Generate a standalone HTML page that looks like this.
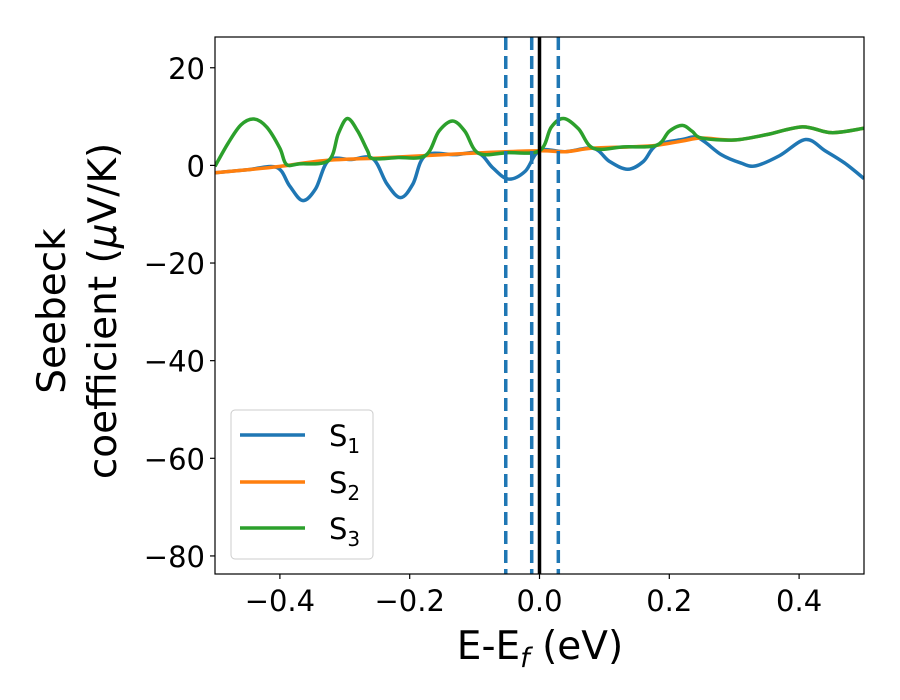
<!DOCTYPE html>
<html><head><meta charset="utf-8"><style>
body{margin:0;background:#fff;}
svg text{font-family:"DejaVu Sans","Liberation Sans",sans-serif;}
</style></head><body>
<svg id="chart" width="900" height="700" xmlns="http://www.w3.org/2000/svg" style="position:absolute;left:0;top:0">
<rect width="900" height="700" fill="#fff"/>
</svg>
<script>
const xTicks=[-0.4,-0.2,0.0,0.2,0.4];
const xTickLabels=["\u22120.4","\u22120.2","0.0","0.2","0.4"];
const yTicks=[20,0,-20,-40,-60,-80];
const yTickLabels=["20","0","\u221220","\u221240","\u221260","\u221280"];
const s1x=[-0.5,-0.45,-0.405,-0.385,-0.365,-0.345,-0.325,-0.29,-0.257,-0.235,-0.214,-0.195,-0.176,-0.13,-0.094,-0.072,-0.048,-0.022,0,0.04,0.083,0.108,0.136,0.16,0.18,0.22,0.245,0.28,0.31,0.333,0.37,0.41,0.44,0.47,0.5];
const s1y=[-1.5,-0.9,-0.4,-4.2,-7.2,-4.8,1,1.2,1.4,-3.8,-6.6,-3.8,2,2.2,2.5,-0.5,-2.8,-1.2,3,2.8,3.5,0.8,-0.8,0.8,4.1,5.3,5.6,2.2,0.5,-0.1,2,5.3,3,0.5,-2.7];
const s2x=[-0.5,-0.45,-0.4,-0.33,-0.25,-0.176,-0.088,0,0.04,0.08,0.14,0.18,0.22,0.25,0.3,0.35,0.405,0.45,0.5];
const s2y=[-1.5,-0.9,-0.2,1,1.5,2,2.6,3,2.8,3.5,3.8,4.1,5,5.6,5.2,6.3,7.9,6.7,7.6];
const s3x=[-0.5,-0.48,-0.46,-0.44,-0.42,-0.4,-0.39,-0.37,-0.325,-0.31,-0.296,-0.28,-0.265,-0.257,-0.22,-0.176,-0.155,-0.134,-0.115,-0.094,-0.05,0,0.018,0.037,0.06,0.083,0.13,0.18,0.2,0.22,0.235,0.25,0.3,0.35,0.405,0.45,0.5];
const s3y=[-0.2,4.5,8.3,9.5,7.8,3.5,0.2,0.3,1,6.5,9.6,7,3,1.4,1.6,2,7,9.1,7,2.5,2.6,3,7.8,9.6,7.5,3.5,3.8,4.1,7,8.2,7,5.6,5.2,6.3,7.9,6.7,7.6];
const vDashed=[-0.052,-0.012,0.029];
const vSolid=[0];

const L=215,R=864,T=37,B=574;
const xmin=-0.5,xmax=0.5,ymin=-83.7,ymax=26.3;
const X=v=>L+(v-xmin)/(xmax-xmin)*(R-L);
const Y=v=>B-(v-ymin)/(ymax-ymin)*(B-T);
const NS="http://www.w3.org/2000/svg";
const svg=document.getElementById('chart');
function mk(t,a,p){const e=document.createElementNS(NS,t);for(const k in a)e.setAttribute(k,a[k]);(p||svg).appendChild(e);return e;}
const defs=mk('defs',{});const cp=mk('clipPath',{id:'clip'},defs);mk('rect',{x:L,y:T,width:R-L,height:B-T},cp);
const g=mk('g',{'clip-path':'url(#clip)'});
function path(xs,ys){const p=xs.map((x,i)=>[X(x),Y(ys[i])]);let d='M'+p[0][0]+','+p[0][1];
for(let i=0;i<p.length-1;i++){const p0=p[Math.max(0,i-1)],p1=p[i],p2=p[i+1],p3=p[Math.min(p.length-1,i+2)];
d+=' C'+(p1[0]+(p2[0]-p0[0])/6)+','+(p1[1]+(p2[1]-p0[1])/6)+' '+(p2[0]-(p3[0]-p1[0])/6)+','+(p2[1]-(p3[1]-p1[1])/6)+' '+p2[0]+','+p2[1];}return d;}
const series=[[s1x,s1y,'#1f77b4','series-s1'],[s2x,s2y,'#ff7f0e','series-s2'],[s3x,s3y,'#2ca02c','series-s3']];
series.forEach(s=>{const e=mk('path',{d:path(s[0],s[1]),fill:'none',stroke:s[2],'stroke-width':3.5,'stroke-linejoin':'round'},g);

});
vDashed.forEach(v=>{const e=mk('line',{x1:X(v),x2:X(v),y1:T,y2:B,stroke:'#1f77b4','stroke-width':3.5,'stroke-dasharray':'13 6'},g);

});
vSolid.forEach(v=>{const e=mk('line',{x1:X(v),x2:X(v),y1:T,y2:B,stroke:'#000','stroke-width':3.5},g);

});
const fr=mk('rect',{x:L,y:T,width:R-L,height:B-T,fill:'none',stroke:'#000','stroke-width':1.2});


xTicks.forEach((v,i)=>{mk('line',{x1:X(v),x2:X(v),y1:B,y2:B+5,stroke:'#000','stroke-width':1.2});
const t=mk('text',{x:X(v),y:B+37,'font-size':29,'text-anchor':'middle'});t.textContent=xTickLabels[i];

});
yTicks.forEach((v,i)=>{mk('line',{x1:L-5,x2:L,y1:Y(v),y2:Y(v),stroke:'#000','stroke-width':1.2});
const t=mk('text',{x:L-10,y:Y(v)+11,'font-size':29,'text-anchor':'end'});t.textContent=yTickLabels[i];

});
</script>
<svg style="position:absolute;left:0;top:0" width="900" height="700" xmlns="http://www.w3.org/2000/svg">
<text x="540" y="659" font-size="39" text-anchor="middle">E-E<tspan font-style="italic" font-size="27" dy="8">f</tspan><tspan dy="-8"> (eV)</tspan></text>
<g transform="translate(0,311) rotate(-90)">
<text x="0" y="65" font-size="39" text-anchor="middle">Seebeck</text>
<text x="0" y="116" font-size="39" text-anchor="middle">coefficient  (<tspan font-style="italic">μ</tspan>V/K)</text>
</g>
<g>
<rect x="231" y="410" width="142" height="149" rx="4" fill="#fff" fill-opacity="0.8" stroke="#ccc" stroke-width="1"/>
<g><line x1="240" x2="305" y1="435" y2="435" stroke="#1f77b4" stroke-width="3.5"/><text x="329" y="446" font-size="29">S<tspan font-size="20" dy="7">1</tspan></text></g>
<g><line x1="240" x2="305" y1="482" y2="482" stroke="#ff7f0e" stroke-width="3.5"/><text x="329" y="493" font-size="29">S<tspan font-size="20" dy="7">2</tspan></text></g>
<g><line x1="240" x2="305" y1="528" y2="528" stroke="#2ca02c" stroke-width="3.5"/><text x="329" y="539" font-size="29">S<tspan font-size="20" dy="7">3</tspan></text></g>
</g>
</svg>
</body></html>
